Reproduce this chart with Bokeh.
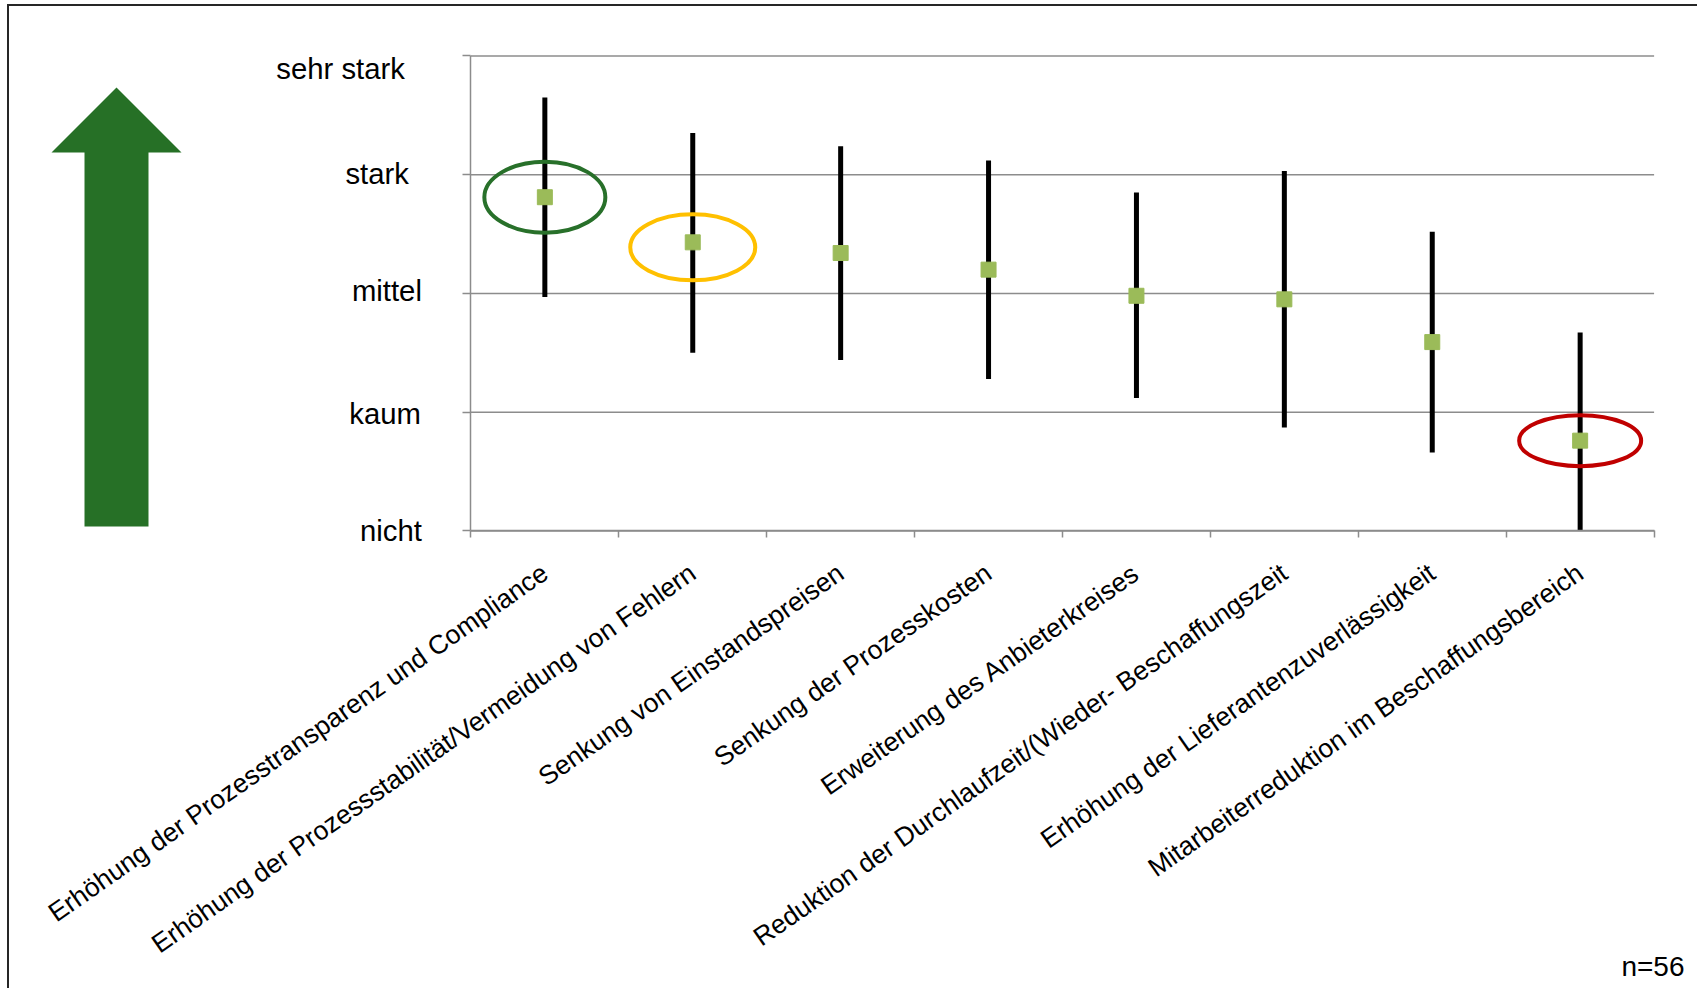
import math
from bokeh.plotting import figure
from bokeh.layouts import row
from bokeh.models import FixedTicker, Range1d, Label
from bokeh.core.properties import value
from bokeh.embed import file_html
from bokeh.resources import INLINE

# ---------------- data ----------------
categories = [
    "Erhöhung der Prozesstransparenz und Compliance",
    "Erhöhung der Prozessstabilität/Vermeidung von Fehlern",
    "Senkung von Einstandspreisen",
    "Senkung der Prozesskosten",
    "Erweiterung des Anbieterkreises",
    "Reduktion der Durchlaufzeit/(Wieder- Beschaffungszeit",
    "Erhöhung der Lieferantenzuverlässigkeit",
    "Mitarbeiterreduktion im Beschaffungsbereich",
]
means = [2.81, 2.43, 2.34, 2.20, 1.98, 1.95, 1.59, 0.76]
upper = [3.65, 3.35, 3.24, 3.12, 2.85, 3.03, 2.52, 1.67]
lower = [1.97, 1.50, 1.44, 1.28, 1.12, 0.87, 0.66, 0.00]

levels = [0, 1, 2, 3, 4]
level_labels = ["nicht", "kaum", "mittel", "stark", "sehr stark"]

highlight_idx = [0, 1, 7]
highlight_colors = ["#28702A", "#FFC000", "#C00000"]

sample_note = "n=56"

# ---------------- layout / style constants (page pixels) ----------------
OX, OY = 9, 6                 # canvas origin on the page (inside the css border)
W, H = 1688, 982              # canvas size
AXIS_X, AXIS_Y = 470.4, 530.4 # page position of the chart origin
PX_CAT, PX_LEVEL = 147.9, 118.75
FONT = "Liberation Sans"
GRID = "#8C8C8C"
BORDER = "#262626"

# per-label nudges of the y tick texts (right edge offset from axis, baseline offset)
ylab_dx = [-49, -50, -49, -62, -66]
ylab_dy = [0, 1, -3, -1, 13]
ell_w = [121, 125, 122]
ell_h = [71, 66, 51]
ell_dy = [0, 5, 0]            # downward nudge of the highlight ellipses, px


def dx(px):
    return (px - AXIS_X) / PX_CAT


def dy(py):
    return (AXIS_Y - py) / PX_LEVEL


p = figure(width=W, height=H,
           x_range=Range1d(dx(OX), dx(OX + W)), y_range=Range1d(dy(OY + H), dy(OY)),
           output_backend="svg", toolbar_location=None,
           min_border=0, min_border_left=0, min_border_right=0, min_border_top=0, min_border_bottom=0)
p.outline_line_color = None
p.grid.visible = False

xs = [i + 0.5 for i in range(len(categories))]
n = len(categories)

# grid lines (only across the category area)
p.segment(x0=[0] * len(levels), y0=levels, x1=[n] * len(levels), y1=levels,
          line_color=GRID, line_width=1.5)

# x axis fixed at y = 0
p.xaxis.fixed_location = 0
p.xaxis.bounds = (0, n)
p.xaxis.ticker = FixedTicker(ticks=xs, minor_ticks=list(range(n + 1)))
p.xaxis.major_label_overrides = {x: c for x, c in zip(xs, categories)}
p.xaxis.major_tick_out = 0
p.xaxis.major_tick_in = 0
p.xaxis.minor_tick_out = 7
p.xaxis.minor_tick_in = 0
p.xaxis.minor_tick_line_color = GRID
p.xaxis.minor_tick_line_width = 1.5
p.xaxis.axis_line_color = GRID
p.xaxis.axis_line_width = 1.5
p.xaxis.major_label_orientation = math.radians(35)
p.xaxis.major_label_text_font = FONT
p.xaxis.major_label_text_font_size = "26.5px"
p.xaxis.major_label_text_color = "black"
p.xaxis.major_label_standoff = 32

# y axis fixed at x = 0
p.yaxis.fixed_location = 0
p.yaxis.bounds = (levels[0], levels[-1])
p.yaxis.ticker = FixedTicker(ticks=levels)
p.yaxis.major_label_overrides = {l: "" for l in levels}
p.yaxis.major_tick_out = 8
p.yaxis.major_tick_in = 0
p.yaxis.major_tick_line_color = GRID
p.yaxis.major_tick_line_width = 1.5
p.yaxis.minor_tick_line_color = None
p.yaxis.axis_line_color = GRID
p.yaxis.axis_line_width = 1.5

# y tick texts
p.text(x=[0] * len(levels), y=levels, text=level_labels,
       x_offset=ylab_dx, y_offset=ylab_dy,
       text_align="right", text_baseline="alphabetic",
       text_font=value(FONT), text_font_size="29.3px", text_color="black")

# data
p.segment(x0=xs, y0=lower, x1=xs, y1=upper, line_width=5, line_color="black")
p.scatter(x=xs, y=means, marker="square", size=15, fill_color="#9BBB59", line_color="#9BBB59")
p.ellipse(x=[xs[i] for i in highlight_idx],
          y=[means[i] - d / PX_LEVEL for i, d in zip(highlight_idx, ell_dy)],
          width=ell_w, height=ell_h, width_units="screen", height_units="screen",
          fill_color=None, line_color=highlight_colors, line_width=4)

# big green arrow (decoration, page pixel geometry)
arrow_px = [116, 181, 148, 148, 84, 84, 51]
arrow_py = [87, 152, 152, 526, 526, 152, 152]
p.patch([dx(v) for v in arrow_px], [dy(v) for v in arrow_py], fill_color="#267026", line_color=None)

p.add_layout(Label(x=dx(1684), y=dy(966), text=sample_note,
                   text_align="right", text_baseline="alphabetic",
                   text_font=FONT, text_font_size="28px", text_color="black"))

layout = row(p, styles={"border-top": "2px solid " + BORDER, "border-left": "2px solid " + BORDER,
                        "margin-left": "7px", "margin-top": "4px"})

open("out.html", "w").write(file_html(layout, INLINE))
